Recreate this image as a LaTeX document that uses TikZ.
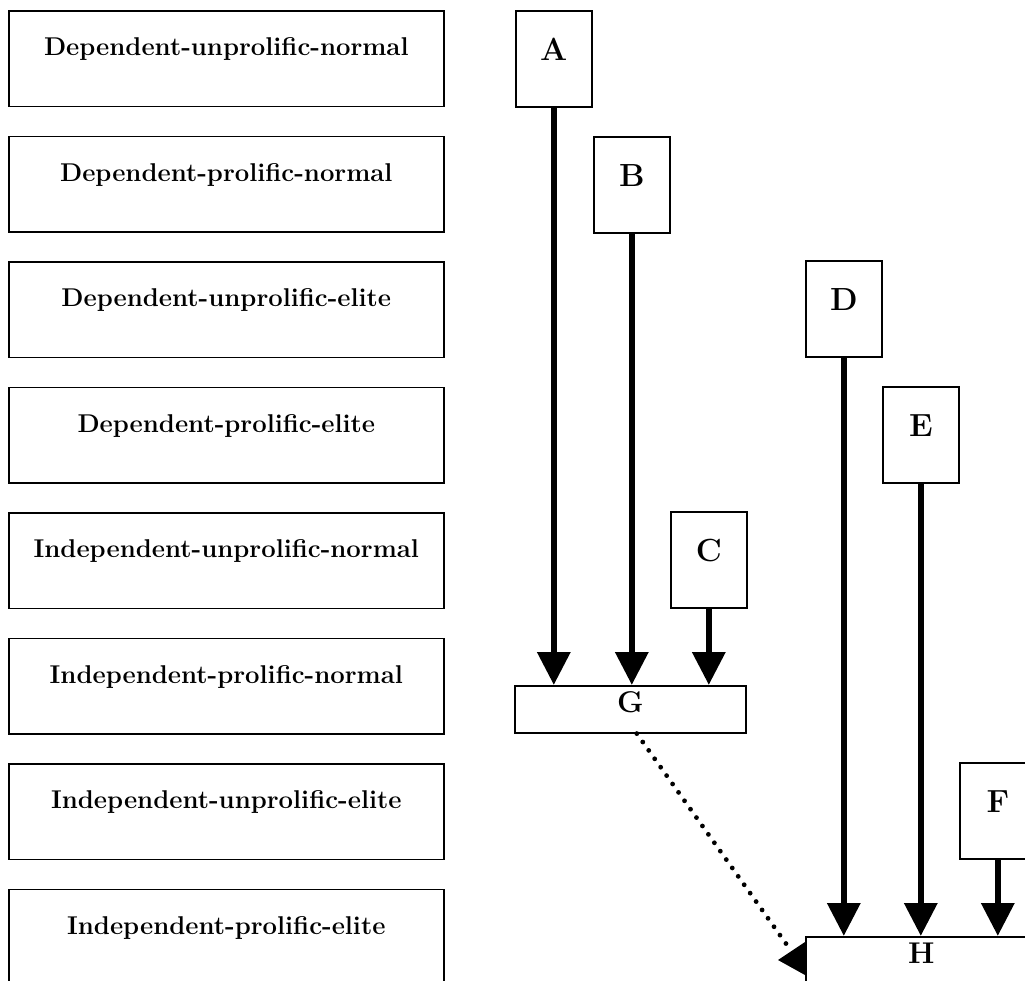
\documentclass[tikz,border=0pt]{standalone}
\usetikzlibrary{arrows.meta}
\begin{document}
\begin{tikzpicture}[x=1pt,y=-1pt,
  lbox/.style={draw, line width=1.6pt, anchor=north west, minimum width=435pt, minimum height=95.5pt,
    inner sep=0pt, text height=45pt, text depth=50.5pt, font=\fontsize{25.7}{30}\selectfont\bfseries},
  kbox/.style={draw, line width=1.6pt, anchor=north west, minimum width=76pt, minimum height=96pt,
    inner sep=0pt, text height=50pt, text depth=46pt, fill=white, font=\fontsize{32}{36}\selectfont\bfseries},
  wbox/.style={draw, line width=1.6pt, anchor=north west, minimum width=231pt, minimum height=47pt,
    inner sep=0pt, text height=27pt, text depth=20pt, fill=white, font=\fontsize{30}{34}\selectfont\bfseries},
  flow/.style={line width=6.5pt, -{Triangle[width=32pt,length=33pt]}},
  dotline/.style={line width=4.8pt, line cap=round, dash pattern=on 0pt off 10.3pt}
]
\clip (0,0) rectangle (1025,980);
\fill[white] (0,0) rectangle (1025,980);
% left category boxes
\node[lbox] (L1) at (8,10) {Dependent-unprolific-normal};
\node[lbox] (L2) at (8,135.5) {Dependent-prolific-normal};
\node[lbox] (L3) at (8,261) {Dependent-unprolific-elite};
\node[lbox] (L4) at (8,386.5) {Dependent-prolific-elite};
\node[lbox] (L5) at (8,512) {Independent-unprolific-normal};
\node[lbox] (L6) at (8,637.5) {Independent-prolific-normal};
\node[lbox] (L7) at (8,763) {Independent-unprolific-elite};
\node[lbox] (L8) at (8,888.5) {Independent-prolific-elite};
% letter boxes
\node[kbox] (A) at (515,10) {A};
\node[kbox] (B) at (593,136) {B};
\node[kbox] (C) at (670,511) {C};
\node[kbox] (D) at (805,260) {D};
\node[kbox] (E) at (882,386) {E};
\node[kbox] (F) at (959,762) {F};
\node[wbox] (G) at (514,685) {G};
\node[wbox] (H) at (805,936) {H};
% arrows
\draw[flow] (A.south) -- (A.south |- G.north);
\draw[flow] (B.south) -- (B.south |- G.north);
\draw[flow] (C.south) -- (C.south |- G.north);
\draw[flow] (D.south) -- (D.south |- H.north);
\draw[flow] (E.south) -- (E.south |- H.north);
\draw[flow] (F.south) -- (F.south |- H.north);
% dotted connector G -> H
\coordinate (dotend) at (787,945);
\draw[dotline] ([xshift=6.5pt]G.south) -- (dotend);
\fill ([yshift=-6pt]H.north west) -- ([xshift=-27pt,yshift=-24pt]H.north west) -- ([yshift=-39pt]H.north west) -- cycle;
\end{tikzpicture}
\end{document}
